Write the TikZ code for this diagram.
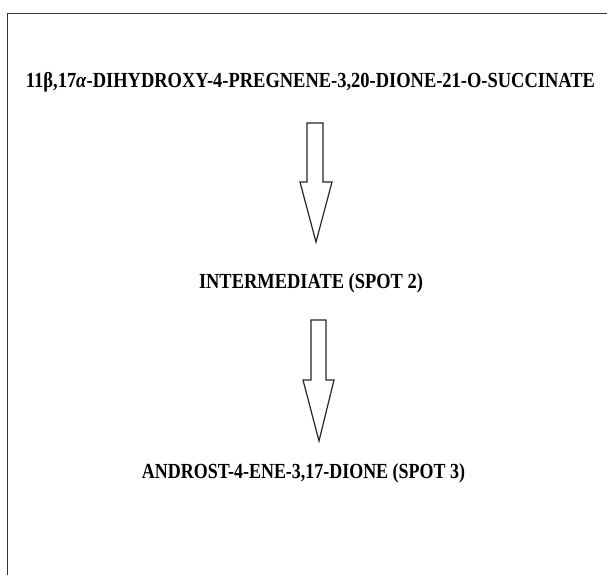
\documentclass[tikz,border=0pt]{standalone}
\usepackage{fontspec}
\setmainfont{Liberation Serif}
\begin{document}
\begin{tikzpicture}[x=1pt,y=-1pt,
  lbl/.style={anchor=base,inner sep=0pt,font=\bfseries\fontsize{21.5}{21.5}\selectfont,text=black},
  blockarrow/.style={draw=black!85,line width=1.2pt,fill=white,line join=miter},
  frame/.style={draw=black!80,line width=1.6pt}]
\useasboundingbox (0,0) rectangle (607,574);
\clip (0,0) rectangle (607,574);
\fill[white] (0,0) rectangle (607,574);
\draw[frame] (7.5,13.5) rectangle (640,600);
\node[lbl] (t1) at (310.5,87.5) {\resizebox{569pt}{\height}{11β,17\textit{α}-DIHYDROXY-4-PREGNENE-3,20-DIONE-21-O-SUCCINATE}};
\node[lbl] (t2) at (311,288) {\resizebox{224pt}{\height}{INTERMEDIATE (SPOT 2)}};
\node[lbl] (t3) at (303.5,478) {\resizebox{323pt}{\height}{ANDROST-4-ENE-3,17-DIONE (SPOT 3)}};
\draw[blockarrow] (307,123) -- (323,123) -- (323,182) -- (332,182) -- (316,242) -- (300,182) -- (307,182) -- cycle;
\draw[blockarrow] (311,320) -- (326,320) -- (326,380) -- (334,380) -- (319,441) -- (303,380) -- (311,380) -- cycle;
\end{tikzpicture}
\end{document}
